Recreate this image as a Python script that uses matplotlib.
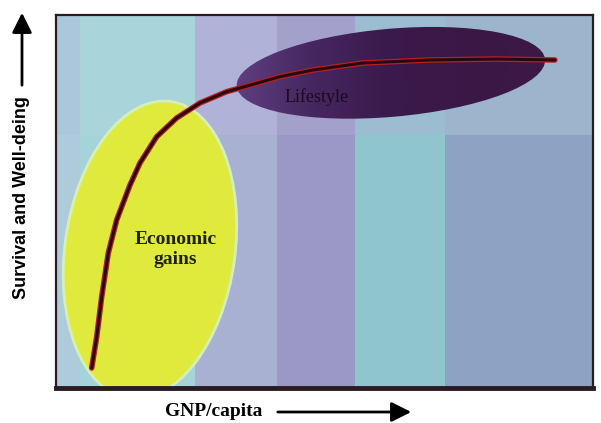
import numpy as np
import matplotlib
matplotlib.use("Agg")
import matplotlib.pyplot as plt
from matplotlib.patches import Ellipse, FancyArrowPatch

# ---- data (arbitrary conceptual units) ----
gnp = [0.957, 1.091, 1.225, 1.402, 1.627, 1.984, 2.252, 2.700, 3.236, 3.861,
       4.576, 5.381, 6.005, 6.890, 8.231, 10.027, 11.823, 13.378]
wellbeing = [0.536, 1.367, 2.440, 3.619, 4.504, 5.442, 6.032, 6.737, 7.239, 7.641,
             7.944, 8.169, 8.346, 8.525, 8.713, 8.794, 8.820, 8.794]

band_edges = [0, 0.64, 3.73, 5.92, 8.02, 10.43, 14.4]
band_colors_low = ['#aecbdc', '#a6d3d9', '#a9b1d3', '#9c98c6', '#8fc6cd', '#8ca3c3']
band_colors_high = ['#aac8da', '#a8d4da', '#b0b2d8', '#a4a0cc', '#9cbcd2', '#9cb4cc']
band_split = 6.78

econ_center, econ_w, econ_h, econ_angle = (2.52, 3.70), 4.56, 8.04, -8
life_center, life_w, life_h, life_angle = (8.98, 8.45), 8.3, 2.36, 5

XMAX, YMAX = 14.4, 10.0

fig = plt.figure(figsize=(6.01, 4.23), dpi=100)
ax = fig.add_axes([56/601, 35/423, 537/601, 373/423])
ax.set_xlim(0, XMAX)
ax.set_ylim(0, YMAX)
ax.set_xticks([])
ax.set_yticks([])

# background bands
for i in range(len(band_colors_low)):
    ax.axvspan(band_edges[i], band_edges[i+1], ymin=0, ymax=band_split/YMAX,
               color=band_colors_low[i], lw=0, zorder=0)
    ax.axvspan(band_edges[i], band_edges[i+1], ymin=band_split/YMAX, ymax=1,
               color=band_colors_high[i], lw=0, zorder=0)

# economic gains ellipse
econ = Ellipse(econ_center, econ_w, econ_h, angle=econ_angle,
               facecolor='#e0ea3c', edgecolor='#d4f0b8', lw=2, zorder=2)
ax.add_patch(econ)

# lifestyle ellipse with gradient
life = Ellipse(life_center, life_w, life_h, angle=life_angle,
               facecolor='none', edgecolor='none', zorder=2)
ax.add_patch(life)
grad = np.linspace(0, 1, 256).reshape(1, -1)
cmap = matplotlib.colors.LinearSegmentedColormap.from_list(
    'life', ['#5e3e80', '#46265e', '#3a1a4c', '#3a1846', '#3c1846'])
im = ax.imshow(grad, extent=[life_center[0]-life_w/2, life_center[0]+life_w/2,
                             life_center[1]-life_h/2-0.6, life_center[1]+life_h/2+0.6],
               cmap=cmap, aspect='auto', zorder=2, interpolation='bicubic')
im.set_clip_path(life)

# curve
ax.plot(gnp, wellbeing, color='#b82020', lw=4.0, solid_capstyle='round',
        solid_joinstyle='round', zorder=3)
ax.plot(gnp, wellbeing, color='#2a0810', lw=2.2, solid_capstyle='round',
        solid_joinstyle='round', zorder=4)

# labels inside
ax.text(7.0, 7.8, 'Lifestyle', family='Liberation Serif', fontsize=13,
        color='#1a0a20', ha='center', va='center', zorder=5)
ax.text(3.2, 3.72, 'Economic\ngains', family='Liberation Serif', fontsize=14,
        fontweight='bold', color='#202010', ha='center', va='center',
        linespacing=1.25, zorder=5)

for s in ax.spines.values():
    s.set_color('#2a1a22')
    s.set_linewidth(1.6)
ax.spines['bottom'].set_linewidth(3.5)

# axis labels with arrows
fig.text(22/601, 1-198/423, 'Survival and Well-deing', rotation=90,
         family='Liberation Sans', fontweight='bold', fontsize=13,
         ha='center', va='center')
fig.patches.append(FancyArrowPatch(
    (22/601, 1-88/423), (22/601, 1-10/423), transform=fig.transFigure,
    arrowstyle='-|>,head_length=8,head_width=4', mutation_scale=1.5,
    color='black', lw=2))

fig.text(214/601, 1-411/423, 'GNP/capita', family='Liberation Serif',
         fontweight='bold', fontsize=14, ha='center', va='center')
fig.patches.append(FancyArrowPatch(
    (275/601, 1-412/423), (414/601, 1-412/423), transform=fig.transFigure,
    arrowstyle='-|>,head_length=8,head_width=4', mutation_scale=1.5,
    color='black', lw=2))

fig.savefig('out.png', dpi=100)
